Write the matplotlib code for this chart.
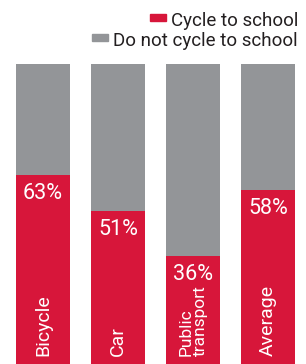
import matplotlib
matplotlib.use('Agg')
import matplotlib.pyplot as plt
from matplotlib.patches import Rectangle
from matplotlib.transforms import IdentityTransform

categories = ['Bicycle', 'Car', 'Public\ntransport', 'Average']
cycle = [63, 51, 36, 58]
not_cycle = [37, 49, 64, 42]
legend_labels = ['Cycle to school', 'Do not cycle to school']

RED = '#d7163a'
GREY = '#939598'
W, H = 306, 364

plt.rcParams['font.family'] = ['Roboto', 'DejaVu Sans']

fig = plt.figure(figsize=(W / 100, H / 100), dpi=100)
ax = fig.add_axes([0, 0, 1, 1])
ax.axis('off')

x = range(len(categories))
ax.bar(x, cycle, width=0.72, color=RED)
ax.bar(x, not_cycle, width=0.72, bottom=cycle, color=GREY)
ax.set_xlim(-43 / 75, 3 + 38 / 75)
ax.set_ylim(0, 100 * H / 300)

for i, v in enumerate(cycle):
    ax.annotate(f'{v}%', xy=(i, v), xytext=(0, -17.5), textcoords='offset points',
                ha='center', va='baseline', color='white', fontsize=15.5)
    # two-line label is set a bit smaller so it fits under its value
    fs = 12.5 if '\n' in categories[i] else 14
    ax.text(i, 8 / H, categories[i], transform=ax.get_xaxis_transform(),
            rotation=90, ha='center', va='bottom', multialignment='left',
            color='white', fontsize=fs, linespacing=0.95)

# legend, right aligned, drawn by hand
ident = IdentityTransform()
fig.canvas.draw()
r = fig.canvas.get_renderer()
for label, col, base in zip(legend_labels, [RED, GREY], [26, 46]):
    t = fig.text(298, H - base, label, transform=ident, ha='right', va='baseline',
                 fontsize=13.5, color='#231f20')
    bb = t.get_window_extent(r)
    fig.patches.append(Rectangle((bb.x0 - 21, H - base + 5), 16, 7,
                                 transform=ident, color=col))

fig.savefig('out.png', dpi=100)
